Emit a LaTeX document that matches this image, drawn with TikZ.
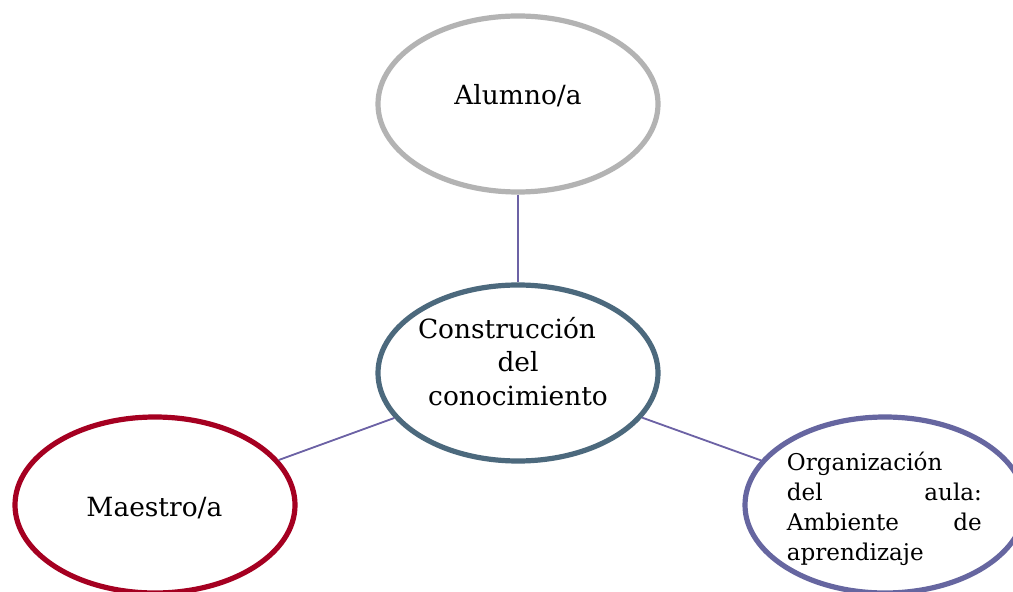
\documentclass[tikz,border=0pt]{standalone}
\usepackage{fontspec}
\setmainfont{DejaVu Serif}
\usetikzlibrary{shapes.geometric}
\definecolor{alumnogray}{RGB}{179,179,179}
\definecolor{centroblue}{RGB}{76,105,125}
\definecolor{maestrored}{RGB}{165,0,33}
\definecolor{aulapurple}{RGB}{102,102,160}
\definecolor{linkpurple}{RGB}{108,98,165}
\newcommand{\spreadline}[2]{\leavevmode\hbox to 4.875cm{#1\hfill #2}}
\begin{document}
\begin{tikzpicture}[
    bubble/.style={ellipse,draw=#1,fill=white,line width=0.13cm,
      minimum width=7.0cm,minimum height=4.4cm,inner sep=0pt},
    bigtext/.style={font=\fontsize{18.8}{23.8}\selectfont,inner sep=0pt},
    smalltext/.style={font=\fontsize{16.4}{21.3}\selectfont,inner sep=0pt},
    link/.style={linkpurple,line width=1.3pt}]
    \path[fill=white] (0,0) rectangle (25.325,14.775);
    \clip (0,0) rectangle (25.325,14.775);
    \node[bubble=alumnogray] (alumno) at (12.95,12.175) {};
    \node[bubble=centroblue] (centro) at (12.95,5.45) {};
    \node[bubble=maestrored] (maestro) at (3.875,2.15) {};
    \node[bubble=aulapurple] (aula) at (22.125,2.15) {};
    \draw[link] (alumno) -- (centro);
    \draw[link] (maestro) -- (centro);
    \draw[link] (centro) -- (aula);
    \node[bigtext,anchor=base] (alumnotxt) at (12.95,12.15) {Alumno/a};
    \node[bigtext,anchor=base] (maestrotxt) at (3.86,1.875) {Maestro/a};
    \node[bigtext,align=center] (centrotxt) at (12.95,5.74)
    {Construcción\hspace*{0.55cm}\\del\\conocimiento};
    \node[smalltext,text width=4.875cm,align=left] (aulatxt) at (22.11,2.06)
    {Organización\\\spreadline{del}{aula:}\\\spreadline{Ambiente}{de}\\aprendizaje};
\end{tikzpicture}
\end{document}
